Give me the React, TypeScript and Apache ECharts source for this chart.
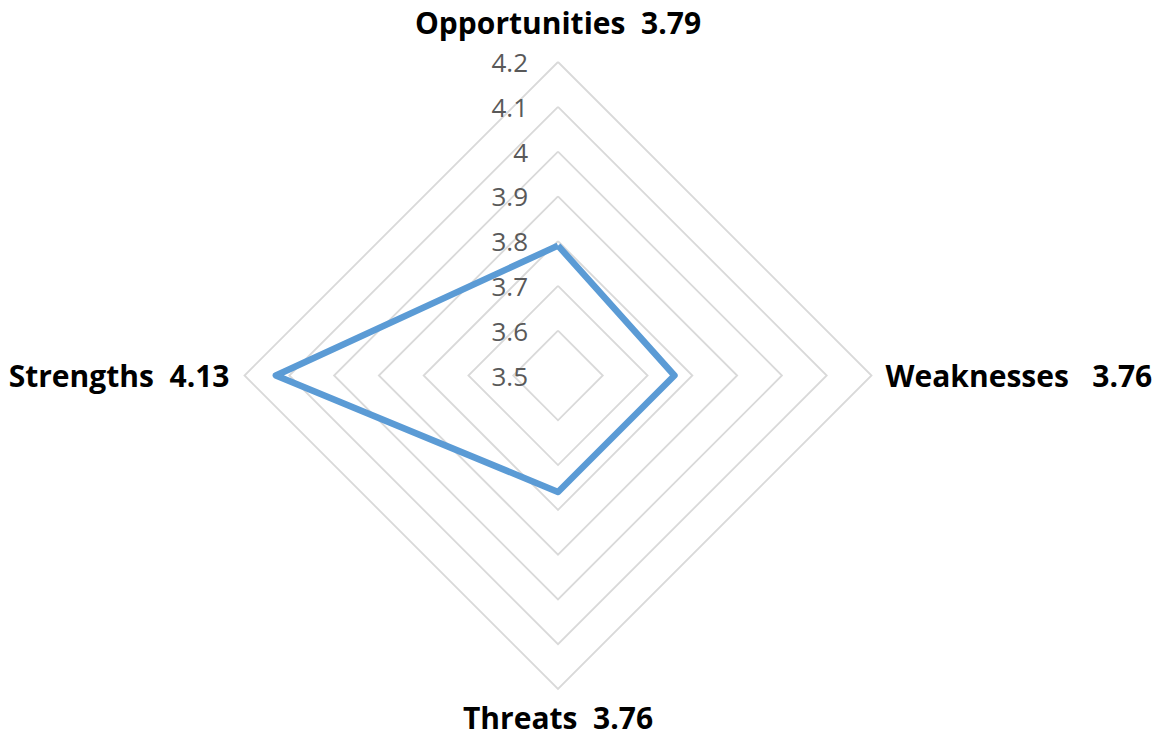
import React, { useEffect, useRef } from "react";
import * as echarts from "echarts";

// counter-clockwise from top: top, left, bottom, right
const categories = ["Opportunities", "Strengths", "Threats", "Weaknesses"];
const separators = ["  ", "  ", "  ", "   "];
const values = [3.79, 4.13, 3.76, 3.76];
const axisMin = 3.5;
const axisMax = 4.2;

export default function App() {
  const ref = useRef<HTMLDivElement>(null);
  useEffect(() => {
    if (!ref.current) return;
    const chart = echarts.init(ref.current, undefined, { renderer: "svg" });
    const labelOpt = {
      show: true,
      showMinLabel: true,
      showMaxLabel: true,
      color: "#595959",
      fontFamily: "Open Sans",
      fontSize: 26,
      margin: 30,
      formatter: (v: number) => String(Math.round(v * 10) / 10),
    };
    const gaps = [24, 15, 12, 14];
    chart.setOption({
      animation: false,
      backgroundColor: "#ffffff",
      radar: {
        center: [558, 375.5],
        radius: 313.5,
        startAngle: 90,
        splitNumber: 7,
        shape: "polygon",
        nameGap: 14,
        indicator: categories.map((c, i) => ({
          name: c,
          min: axisMin,
          max: axisMax,
          nameGap: gaps[i],
          axisLabel: i === 0 ? labelOpt : { show: false },
        })),
        axisName: {
          color: "#000000",
          fontFamily: "Open Sans",
          fontWeight: "bold",
          fontSize: 30,
          lineHeight: 32,
          formatter: (name: string) => {
            const i = categories.indexOf(name);
            return name + separators[i] + values[i].toFixed(2);
          },
        },
        axisLine: { show: false },
        axisTick: { show: false },
        splitArea: { show: false },
        splitLine: { lineStyle: { color: "#d9d9d9", width: 1.8 } },
        axisLabel: labelOpt,
      },
      series: [
        {
          type: "radar",
          symbol: "none",
          lineStyle: { color: "#5b9bd5", width: 6.5 },
          data: [{ value: values, name: "Score" }],
        },
      ],
    });
    return () => chart.dispose();
  }, []);
  return (
    <div
      ref={ref}
      style={{ position: "absolute", left: 0, top: 0, width: 1165, height: 738 }}
    />
  );
}
